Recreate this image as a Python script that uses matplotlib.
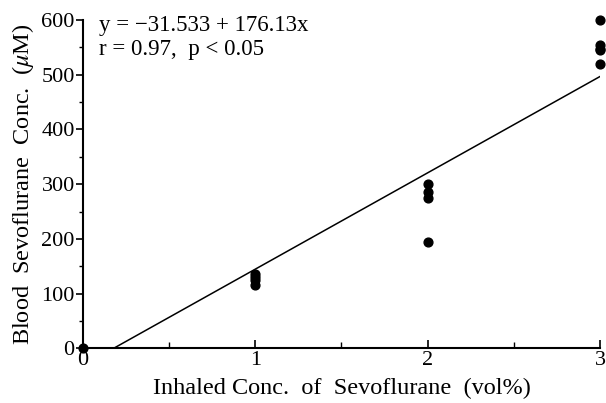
import matplotlib.pyplot as plt
import numpy as np
from matplotlib.ticker import MultipleLocator

plt.rcParams['font.family'] = ['Liberation Serif', 'DejaVu Serif']
plt.rcParams['mathtext.fontset'] = 'stix'

# measured blood concentrations (uM) at each inhaled concentration (vol%)
x_pts = [0, 1, 1, 1, 1, 2, 2, 2, 2, 3, 3, 3, 3, 3]
y_pts = [0, 115, 125, 130, 135, 195, 275, 285, 300, 520, 545, 548, 555, 600]
intercept = -31.533
slope = 176.13

fig = plt.figure(figsize=(6.06, 4.03), dpi=100)
ax = fig.add_axes([0.137, 0.136, 0.853, 0.814])

x0 = -intercept / slope
xl = np.array([x0, 3])
ax.plot(xl, intercept + slope * xl, color='black', lw=1.1)
ax.scatter(x_pts, y_pts, s=40, color='black', zorder=3, clip_on=False)

ax.set_xlim(0, 3)
ax.set_ylim(0, 600)
ax.spines['top'].set_visible(False)
ax.spines['right'].set_visible(False)
ax.spines['left'].set_linewidth(1.5)
ax.spines['bottom'].set_linewidth(1.5)

ax.xaxis.set_major_locator(MultipleLocator(1))
ax.xaxis.set_minor_locator(MultipleLocator(0.5))
ax.yaxis.set_major_locator(MultipleLocator(100))
ax.yaxis.set_minor_locator(MultipleLocator(50))
ax.tick_params(axis='x', which='major', direction='in', length=6, width=1.2, labelsize=16, pad=2)
ax.tick_params(axis='x', which='minor', direction='in', length=4, width=1.0)
ax.tick_params(axis='y', which='major', direction='out', length=5, width=1.2, labelsize=16, pad=1)
ax.tick_params(axis='y', which='minor', direction='out', length=3, width=1.0)

ax.set_xlabel('Inhaled Conc.  of  Sevoflurane  (vol%)', fontsize=17.5, labelpad=6)
ax.set_ylabel(r'Blood  Sevoflurane  Conc.  ($\mu$M)', fontsize=17.5, labelpad=4)

ax.text(0.03, 0.985, 'y = \u221231.533 + 176.13x', transform=ax.transAxes,
        fontsize=16.5, va='center', ha='left')
ax.text(0.03, 0.91, 'r = 0.97,  p < 0.05', transform=ax.transAxes,
        fontsize=16.5, va='center', ha='left')

fig.savefig('out.png', dpi=100)
